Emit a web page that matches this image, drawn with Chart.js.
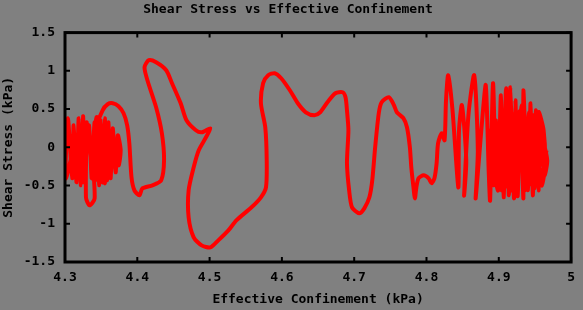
<!DOCTYPE html>
<html>
<head>
<meta charset="utf-8">
<script src="https://cdn.jsdelivr.net/npm/chart.js@4/dist/chart.umd.min.js"></script>
<style>
  html, body { margin: 0; padding: 0; background: #808080; }
  canvas { display: block; }
</style>
</head>
<body>
<canvas id="stressChart" width="583" height="310"></canvas>
<script>
// Effective confinement (kPa) along the loading path
const confinement = [
    // early cycles, low confinement
    4.314, 4.301, 4.304, 4.310, 4.312, 4.316, 4.319, 4.322, 4.325, 4.327,
    4.330, 4.329, 4.334, 4.341, 4.338, 4.344, 4.347, 4.349, 4.352, 4.355,
    4.358, 4.360, 4.363, 4.366, 4.370, 4.373, 4.377, 4.374, 4.367, 4.363,
    4.359, 4.355, 4.351, 4.345, 4.341, 4.337, 4.333, 4.326, 4.321, 4.315,
    4.311, 4.318, 4.332, 4.345, 4.342,
    // large excursions
    4.352, 4.359, 4.366, 4.374, 4.381, 4.386, 4.389, 4.392, 4.396, 4.403,
    4.407, 4.421, 4.433, 4.437, 4.434, 4.426, 4.414, 4.410, 4.416, 4.426,
    4.440, 4.448, 4.460, 4.468, 4.481, 4.489, 4.501, 4.495, 4.485, 4.478,
    4.471, 4.471, 4.478, 4.489, 4.501, 4.512, 4.526, 4.537, 4.558, 4.571,
    4.578, 4.579, 4.577, 4.571, 4.574, 4.581, 4.590, 4.599, 4.611, 4.622,
    4.633, 4.645, 4.653, 4.663, 4.674, 4.684, 4.688, 4.690, 4.692, 4.690,
    4.693, 4.697, 4.707, 4.714, 4.721, 4.725, 4.729, 4.734, 4.738, 4.748,
    4.755, 4.759, 4.768, 4.773, 4.777, 4.779, 4.782, 4.784, 4.786, 4.789,
    4.796, 4.803, 4.807, 4.811, 4.814, 4.816, 4.821, 4.825,
    // late cycles, high confinement
    4.827, 4.830, 4.836, 4.844, 4.845, 4.849, 4.855, 4.852, 4.858, 4.866,
    4.871, 4.868, 4.877, 4.882, 4.886, 4.888, 4.892, 4.896, 4.899, 4.903,
    4.907, 4.910, 4.914, 4.916, 4.921, 4.923, 4.926, 4.930, 4.934, 4.934,
    4.940, 4.944, 4.947, 4.951, 4.955, 4.955, 4.962, 4.964, 4.959, 4.948,
    4.941, 4.932, 4.922, 4.912, 4.904, 4.896, 4.901, 4.910, 4.918, 4.927,
    4.937, 4.945, 4.953, 4.960, 4.967, 4.963,
    4.956, 4.949, 4.942, 4.936, 4.929, 4.923, 4.915, 4.908, 4.900, 4.893,
    4.889, 4.895, 4.905, 4.911, 4.919, 4.925, 4.933, 4.938, 4.949, 4.958,
    4.966
];

// Shear stress (kPa) at each point
const shearStress = [
    0.092, -0.406, 0.380, -0.406, 0.288, -0.458, 0.380, -0.497, 0.406, -0.406,
    0.327, -0.654, -0.759, -0.668, -0.039, 0.393, -0.497, 0.353, -0.458, 0.380,
    -0.432, 0.327, -0.406, 0.249, -0.327, 0.157, -0.039, -0.236, 0.092, -0.366,
    0.249, -0.471, 0.288, -0.432, 0.327, -0.406, 0.288, -0.458, 0.223, -0.366,
    0.157, -0.170, -0.039, -0.170, 0.223,
    0.484, 0.563, 0.576, 0.537, 0.445, 0.288, 0.052, -0.393, -0.563, -0.628,
    -0.537, -0.497, -0.432, -0.170, 0.183, 0.524, 0.877, 1.047, 1.139, 1.113,
    1.008, 0.838, 0.576, 0.353, 0.223, 0.196, 0.249, 0.131, -0.039, -0.262,
    -0.563, -0.916, -1.178, -1.283, -1.309, -1.217, -1.086, -0.955, -0.785, -0.654,
    -0.524, -0.170, 0.262, 0.576, 0.838, 0.942, 0.969, 0.903, 0.746, 0.576,
    0.458, 0.419, 0.458, 0.589, 0.707, 0.720, 0.654, 0.484, 0.223, -0.209,
    -0.563, -0.785, -0.864, -0.798, -0.654, -0.432, 0.000, 0.445, 0.589, 0.654,
    0.550, 0.458, 0.380, 0.262, 0.000, -0.262, -0.524, -0.668, -0.524, -0.406,
    -0.366, -0.406, -0.471, -0.406, -0.209, 0.052, 0.183, 0.092,
    0.615, 0.942, 0.484, -0.524, 0.223, 0.550, -0.170, -0.628, 0.419, 0.942,
    -0.039, -0.668, 0.353, 0.812, -0.301, -0.694, 0.838, -0.432, -0.563, 0.681,
    -0.654, 0.772, -0.628, 0.785, -0.668, 0.615, -0.641, 0.484, -0.668, 0.746,
    -0.563, 0.576, -0.628, 0.484, -0.563, 0.458, 0.223, -0.262, -0.497, 0.419,
    -0.497, 0.550, -0.537, 0.484, -0.563, 0.353, -0.497, 0.419, -0.563, 0.458,
    -0.537, 0.353, -0.497, 0.092, -0.170, -0.366,
    0.380, -0.537, 0.458, -0.563, 0.380, -0.497, 0.353, -0.537, 0.288, -0.497,
    0.223, -0.366, 0.380, -0.458, 0.432, -0.432, 0.353, -0.458, 0.288, -0.406,
    -0.039
];

const xTicks = [4.3, 4.4, 4.5, 4.6, 4.7, 4.8, 4.9, 5];
const xTickLabels = ["4.3", "4.4", "4.5", "4.6", "4.7", "4.8", "4.9", "5"];
const yTicks = [-1.5, -1, -0.5, 0, 0.5, 1, 1.5];
const yTickLabels = ["-1.5", "-1", "-0.5", "0", "0.5", "1", "1.5"];

const points = confinement.map((c, i) => ({ x: c, y: shearStress[i] }));

// Box round the plot and inward tick marks on every side
const framePlugin = {
    id: "frame",
    afterDatasetsDraw(chart) {
        const { ctx, chartArea: a, scales } = chart;
        ctx.save();
        ctx.strokeStyle = "#000";
        ctx.lineWidth = 2;
        ctx.beginPath();
        scales.x.ticks.forEach((t, i) => {
            const px = scales.x.getPixelForTick(i);
            ctx.moveTo(px, a.top); ctx.lineTo(px, a.top + 5);
            ctx.moveTo(px, a.bottom); ctx.lineTo(px, a.bottom - 5);
        });
        scales.y.ticks.forEach((t, i) => {
            const py = scales.y.getPixelForTick(i);
            ctx.moveTo(a.left, py); ctx.lineTo(a.left + 5, py);
            ctx.moveTo(a.right, py); ctx.lineTo(a.right - 5, py);
        });
        ctx.stroke();
        ctx.lineWidth = 3;
        ctx.strokeRect(a.left, a.top, a.right - a.left, a.bottom - a.top);
        ctx.restore();
    }
};

Chart.defaults.font.family = "'DejaVu Sans Mono', monospace";
Chart.defaults.font.weight = "bold";
Chart.defaults.font.size = 13;
Chart.defaults.color = "#000";

const ctx = document.getElementById("stressChart").getContext("2d");
new Chart(ctx, {
    type: "scatter",
    data: {
        datasets: [{
            data: points,
            showLine: true,
            borderColor: "#ff0000",
            borderWidth: 4,
            pointRadius: 0,
            tension: 0.25,
            fill: false
        }]
    },
    options: {
        responsive: false,
        animation: false,
        layout: { padding: { left: 0, right: 7, top: 0, bottom: 0 } },
        plugins: {
            legend: { display: false },
            tooltip: { enabled: false },
            title: {
                display: true,
                text: "Shear Stress vs Effective Confinement",
                font: { size: 13, weight: "bold" },
                color: "#000",
                padding: { top: 2, bottom: 15 }
            }
        },
        scales: {
            x: {
                type: "linear",
                min: 4.3,
                max: 5,
                afterBuildTicks: (scale) => { scale.ticks = xTicks.map(v => ({ value: v })); },
                afterFit: (scale) => { scale.height = 48; },
                grid: { display: false, drawTicks: false },
                border: { display: false },
                ticks: {
                    padding: 8,
                    maxRotation: 0,
                    autoSkip: false,
                    callback: (v, i) => xTickLabels[i]
                },
                title: {
                    display: true,
                    text: "Effective Confinement (kPa)",
                    font: { size: 13, weight: "bold" },
                    padding: { top: 0, bottom: 3 }
                }
            },
            y: {
                type: "linear",
                min: -1.5,
                max: 1.5,
                afterBuildTicks: (scale) => { scale.ticks = yTicks.map(v => ({ value: v })); },
                afterFit: (scale) => { scale.width = 65; },
                grid: { display: false, drawTicks: false },
                border: { display: false },
                ticks: {
                    padding: 10,
                    autoSkip: false,
                    callback: (v, i) => yTickLabels[i]
                },
                title: {
                    display: true,
                    text: "Shear Stress (kPa)",
                    font: { size: 13, weight: "bold" },
                    padding: { top: 1, bottom: 0 }
                }
            }
        }
    },
    plugins: [framePlugin]
});
</script>
</body>
</html>
